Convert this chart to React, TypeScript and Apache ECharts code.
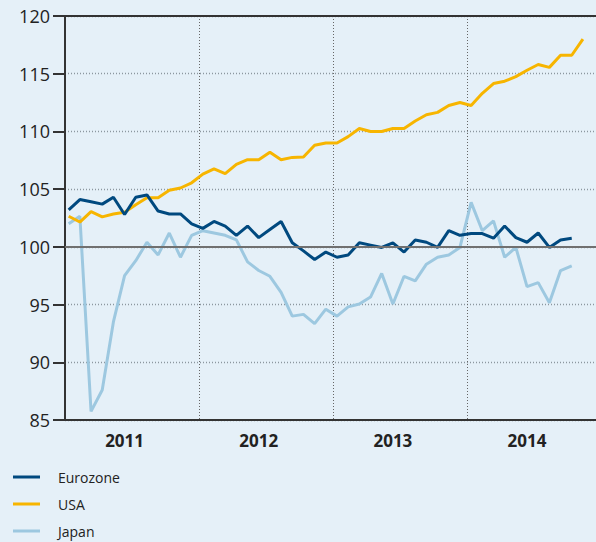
import React, { useEffect, useRef } from "react";
import * as echarts from "echarts";

const years = ["2011", "2012", "2013", "2014"];
const seriesNames = ["Eurozone", "USA", "Japan"];

// Monthly index values, Jan 2011 onwards
const eurozone = [
  103.2, 104.1, 103.9, 103.7, 104.3, 102.8, 104.3, 104.5, 103.1, 102.85, 102.85, 102.0,
  101.6, 102.2, 101.8, 101.0, 101.8, 100.8, 101.5, 102.2, 100.35, 99.65, 98.9, 99.55,
  99.1, 99.3, 100.35, 100.15, 99.95, 100.35, 99.55, 100.6, 100.4, 99.95, 101.4, 101.0,
  101.15, 101.15, 100.75, 101.8, 100.8, 100.4, 101.2, 99.95, 100.6, 100.75,
];
const usa = [
  102.65, 102.15, 103.05, 102.6, 102.85, 103.0, 103.65, 104.25, 104.25, 104.9, 105.1, 105.55,
  106.3, 106.75, 106.35, 107.15, 107.55, 107.55, 108.2, 107.55, 107.75, 107.78, 108.8, 109.0,
  109.0, 109.55, 110.25, 110.0, 110.0, 110.25, 110.25, 110.9, 111.45, 111.65, 112.25, 112.5,
  112.25, 113.3, 114.15, 114.35, 114.75, 115.3, 115.8, 115.55, 116.6, 116.6, 118.0,
];
const japan = [
  102.0, 102.65, 85.75, 87.6, 93.5, 97.5, 98.8, 100.4, 99.3, 101.2, 99.1, 101.0,
  101.4, 101.2, 101.0, 100.6, 98.7, 97.95, 97.45, 96.05, 94.0, 94.15, 93.35, 94.6,
  94.0, 94.8, 95.05, 95.65, 97.7, 95.05, 97.45, 97.05, 98.5, 99.1, 99.3, 99.95,
  103.85, 101.4, 102.25, 99.1, 99.95, 96.55, 96.9, 95.15, 97.95, 98.35,
];
const yearLabelPositions = [5.33, 17.33, 29.33, 41.33];
const referenceLevel = 100;

const colors = { eurozone: "#00497f", usa: "#f7b500", japan: "#9dc8e0" };
const FONT = "Open Sans";

export default function App() {
  const ref = useRef<HTMLDivElement>(null);

  useEffect(() => {
    document.body.style.margin = "0";
    const chart = echarts.init(ref.current!, null, { renderer: "svg" });
    const toPts = (arr: number[]) => arr.map((v, i) => [i + 0.33, v]);
    const lineSeries = (name: string, data: number[], color: string, z: number) => ({
      name,
      type: "line",
      data: toPts(data),
      symbol: "none",
      showSymbol: false,
      z,
      lineStyle: { color, width: 3 },
      itemStyle: { color },
    });

    chart.setOption({
      animation: false,
      backgroundColor: "#e5f0f8",
      grid: { left: 65, right: 0, top: 16, bottom: 122 },
      legend: {
        orient: "vertical",
        left: 13,
        top: 470,
        padding: 0,
        icon: "rect",
        itemWidth: 27,
        itemHeight: 3,
        itemGap: 13,
        data: seriesNames,
        textStyle: {
          fontFamily: FONT,
          fontSize: 14,
          color: "#222",
          padding: [0, 0, 0, 13],
        },
      },
      xAxis: [
        {
          type: "value",
          position: "bottom",
          min: 0,
          max: 47.5,
          interval: 12,
          axisLine: { show: true, lineStyle: { color: "#333", width: 2 } },
          axisTick: { show: false },
          axisLabel: {
            customValues: yearLabelPositions,
            formatter: (v: number) => years[Math.floor(v / 12)] ?? "",
            fontFamily: FONT,
            fontSize: 17,
            fontWeight: "bold",
            color: "#222",
            margin: 12,
          },
          splitLine: {
            show: true,
            lineStyle: { color: "#666", width: 1, type: [1, 2] },
          },
        },
        {
          type: "value",
          position: "top",
          min: 0,
          max: 47.5,
          axisLine: { show: true, lineStyle: { color: "#333", width: 2 } },
          axisTick: { show: false },
          axisLabel: { show: false },
          splitLine: { show: false },
        },
      ],
      yAxis: {
        type: "value",
        min: 85,
        max: 120,
        interval: 5,
        axisLine: { show: true, lineStyle: { color: "#333", width: 2 } },
        axisTick: { show: true, length: 12, lineStyle: { color: "#333", width: 2 } },
        axisLabel: {
          fontFamily: FONT,
          fontSize: 18,
          color: "#222",
          margin: 15,
        },
        splitLine: {
          show: true,
          lineStyle: { color: "#8d979f", width: 1.3, type: [1, 2] },
        },
      },
      series: [
        {
          name: "ref",
          type: "line",
          data: [],
          z: 1,
          markLine: {
            silent: true,
            symbol: ["none", "none"],
            label: { show: false },
            lineStyle: { color: "#707070", width: 2, type: "solid" },
            data: [{ yAxis: referenceLevel }],
          },
        },
        lineSeries("Japan", japan, colors.japan, 2),
        lineSeries("USA", usa, colors.usa, 3),
        lineSeries("Eurozone", eurozone, colors.eurozone, 4),
      ],
    });
    return () => chart.dispose();
  }, []);

  return <div ref={ref} style={{ width: 596, height: 542 }} />;
}
